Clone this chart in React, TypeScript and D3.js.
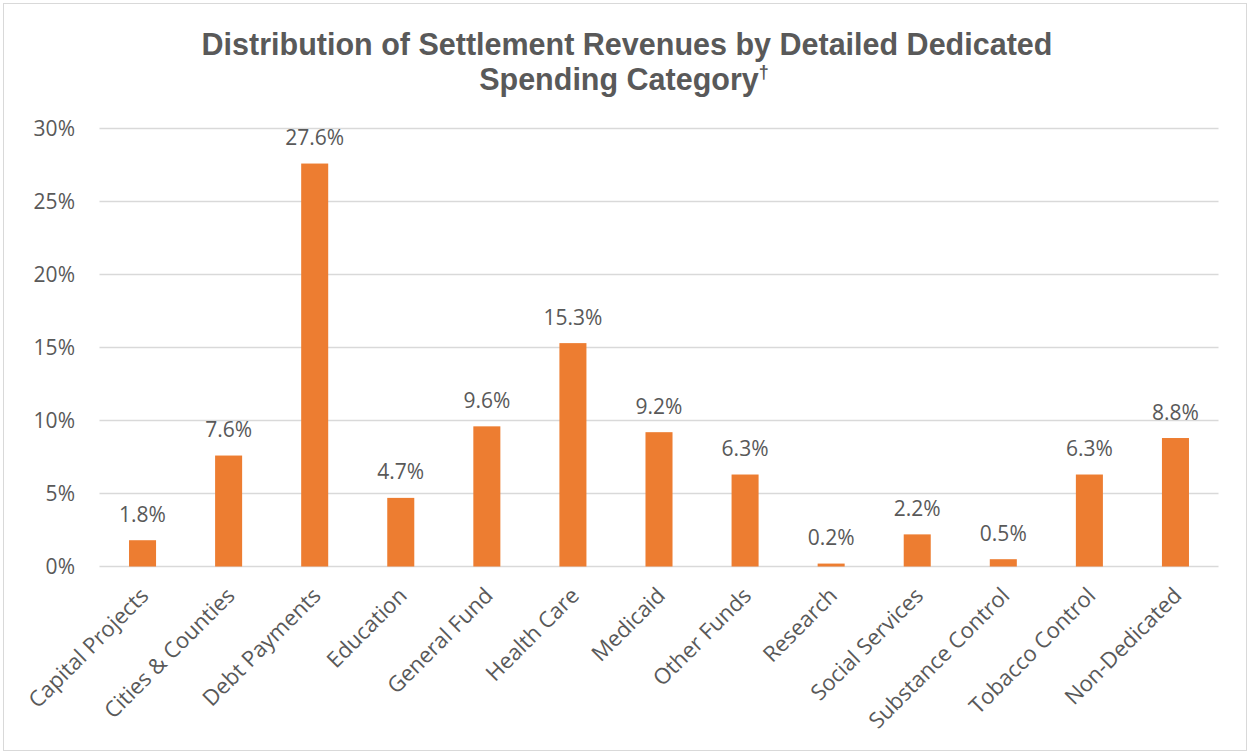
import React from "react";
import * as d3 from "d3";

const categories = [
  "Capital Projects",
  "Cities & Counties",
  "Debt Payments",
  "Education",
  "General Fund",
  "Health Care",
  "Medicaid",
  "Other Funds",
  "Research",
  "Social Services",
  "Substance Control",
  "Tobacco Control",
  "Non-Dedicated",
];
const values = [1.8, 7.6, 27.6, 4.7, 9.6, 15.3, 9.2, 6.3, 0.2, 2.2, 0.5, 6.3, 8.8];
const yTicks = [0, 5, 10, 15, 20, 25, 30];

const W = 1249;
const H = 753;
const FONT = "'Open Sans', sans-serif";
const TEXT = "#595959";

export default function App() {
  const x = d3.scaleBand<string>().domain(categories).range([99.5, 1218.5]).padding(0);
  const y = d3.scaleLinear().domain([0, 30]).range([566.5, 128.5]);
  const bw = x.bandwidth() * 0.314;

  return (
    <svg width={W} height={H} style={{ position: "absolute", left: 0, top: 0 }}>
      <rect x={0} y={0} width={W} height={H} fill="#fff" />
      <rect x={3.5} y={3.5} width={1243} height={747} fill="none" stroke="#d9d9d9" strokeWidth={1} />
      <text
        x={627}
        y={55}
        textAnchor="middle"
        fontFamily="'Liberation Sans', Arial, sans-serif"
        fontWeight="bold"
        fontSize={30.5}
        fill={TEXT}
      >
        Distribution of Settlement Revenues by Detailed Dedicated
      </text>
      <text
        x={624}
        y={90}
        textAnchor="middle"
        fontFamily="'Liberation Sans', Arial, sans-serif"
        fontWeight="bold"
        fontSize={30.5}
        fill={TEXT}
      >
        Spending Category<tspan fontSize={18} dy={-12}>†</tspan>
      </text>
      {yTicks.map((t) => (
        <g key={t}>
          <line x1={99.5} x2={1218.5} y1={y(t)} y2={y(t)} stroke="#d9d9d9" strokeWidth={1.3} />
          <text x={75} y={y(t) + 7.5} textAnchor="end" fontFamily={FONT} fontSize={21} fill={TEXT}>
            {t}%
          </text>
        </g>
      ))}
      {categories.map((c, i) => {
        const cx = (x(c) as number) + x.bandwidth() / 2;
        return (
          <g key={c}>
            <rect x={cx - bw / 2} y={y(values[i])} width={bw} height={y(0) - y(values[i])} fill="#ed7d31" />
            <text
              x={cx}
              y={y(values[i]) - 18.5}
              textAnchor="middle"
              fontFamily={FONT}
              fontSize={21}
              fill={TEXT}
            >
              {values[i].toFixed(1)}%
            </text>
            <text
              transform={`translate(${cx + 7.5},${597}) rotate(-45)`}
              textAnchor="end"
              fontFamily={FONT}
              fontSize={22}
              fill={TEXT}
            >
              {c}
            </text>
          </g>
        );
      })}
    </svg>
  );
}
